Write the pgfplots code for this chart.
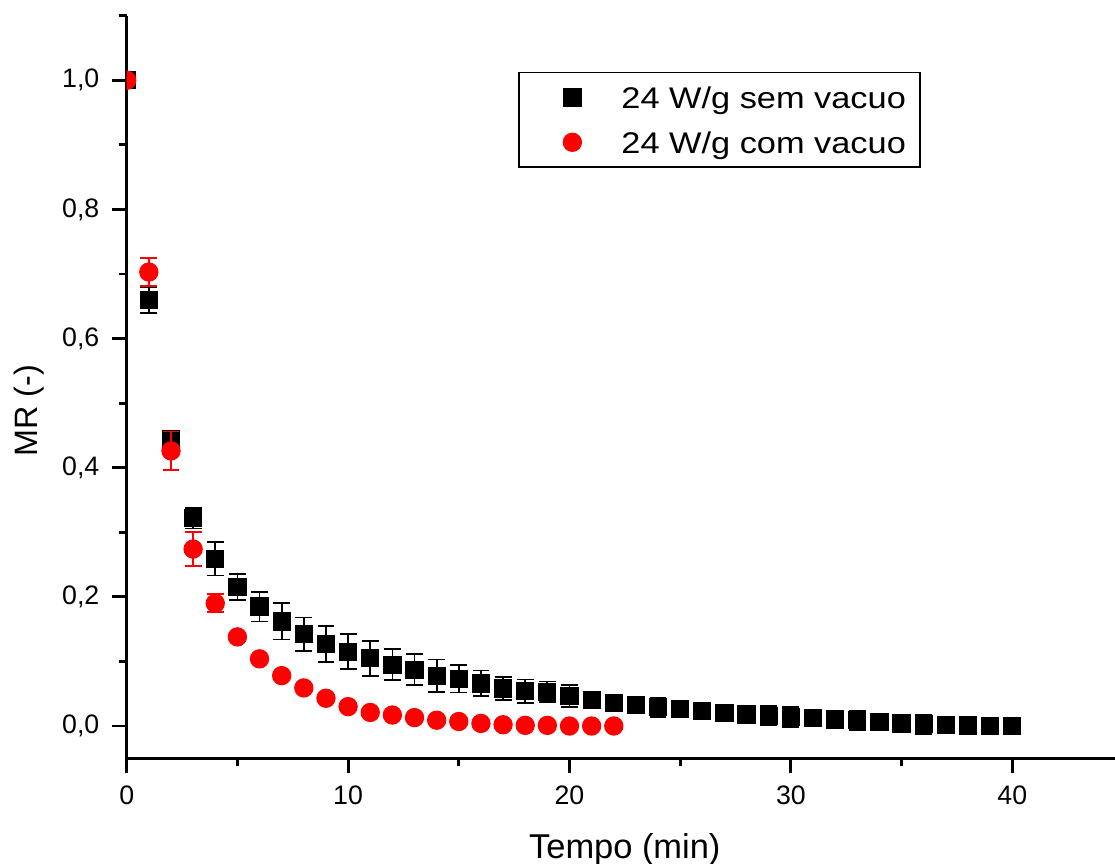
\documentclass[border=0pt]{standalone}
\usepackage{pgfplots}
\pgfplotsset{compat=1.18}
\usepackage{pgfplotstable}
\usepackage{fontspec}
\setmainfont{Liberation Sans}
\newfontfamily\legfont{Liberation Sans}[FakeStretch=1.15]

% Moisture ratio, 24 W/g without vacuum: time (min), MR, standard deviation
\pgfplotstableread{
t  mr     e
0  1.000  0.000
1  0.660  0.020
2  0.445  0.012
3  0.322  0.016
4  0.259  0.026
5  0.215  0.020
6  0.185  0.023
7  0.162  0.028
8  0.142  0.026
9  0.127  0.028
10 0.115  0.027
11 0.105  0.027
12 0.095  0.024
13 0.087  0.024
14 0.078  0.025
15 0.073  0.021
16 0.066  0.020
17 0.058  0.018
18 0.054  0.018
19 0.053  0.016
20 0.047  0.017
21 0.040  0.006
22 0.036  0.006
23 0.032  0.006
24 0.029  0.015
25 0.026  0.008
26 0.023  0.008
27 0.020  0.008
28 0.018  0.008
29 0.016  0.015
30 0.014  0.015
31 0.012  0.008
32 0.010  0.008
33 0.009  0.015
34 0.006  0.008
35 0.004  0.008
36 0.003  0.015
37 0.002  0.008
38 0.001  0.005
39 0.000  0.005
40 0.000  0.005
}\semvacuo

% Moisture ratio, 24 W/g with vacuum
\pgfplotstableread{
t  mr     e
0  1.000  0.000
1  0.703  0.022
2  0.426  0.030
3  0.274  0.026
4  0.190  0.014
5  0.138  0.004
6  0.104  0.003
7  0.078  0.003
8  0.059  0.002
9  0.043  0.002
10 0.030  0.002
11 0.021  0.002
12 0.017  0.002
13 0.013  0.002
14 0.009  0.002
15 0.007  0.002
16 0.004  0.002
17 0.002  0.001
18 0.001  0.001
19 0.001  0.001
20 0.000  0.001
21 0.000  0.001
22 0.000  0.001
}\comvacuo

\begin{document}
\begin{tikzpicture}
\begin{axis}[
  at={(0,0)}, anchor=south west,
  scale only axis, width=9.883cm, height=7.426cm,
  xmin=0, xmax=44.64, ymin=-0.05, ymax=1.1,
  axis x line*=bottom, axis y line*=left,
  axis line style={-, line width=0.8pt, black},
  xtick={0,10,20,30,40},
  minor xtick={5,15,25,35},
  ytick={0,0.2,0.4,0.6,0.8,1.0},
  minor ytick={0.1,0.3,0.5,0.7,0.9,1.1},
  tick align=outside,
  major tick length=0.15cm, minor tick length=0.08cm,
  tick style={line width=0.8pt, black},
  major tick style={line width=0.8pt, black},
  minor tick style={line width=0.8pt, black},
  tick label style={font=\fontsize{7.6}{9}\selectfont},
  /pgf/number format/assume math mode=true,
  yticklabel style={/pgf/number format/.cd, use comma, fixed, fixed zerofill, precision=1},
  xlabel={Tempo (min)},
  xlabel style={font=\fontsize{9.8}{11}\selectfont, at={(axis description cs:0.504,-0.1347)}, anchor=base},
  ylabel={MR (-)},
  ylabel style={font=\fontsize{9.2}{11}\selectfont, at={(axis description cs:-0.0989,0.468)}, anchor=center},
  clip marker paths=true,
  legend style={at={(axis description cs:0.396,0.9246)}, anchor=north west,
    draw=black, line width=0.5pt, font=\legfont\fontsize{8.5}{10}\selectfont,
    inner xsep=2pt, inner ysep=2pt, row sep=2.6pt,
    nodes={text depth=0pt}},
  legend cell align=left,
  legend image code/.code={%
    \path[draw=none, fill=none] (0cm,-0.1cm) rectangle (0.884cm,0.1cm);
    \draw[#1] plot coordinates {(0.464cm,0cm)};},
]
\addplot[only marks, mark=square*, mark size=2.45pt,
  mark options={draw=black, fill=black, line width=0.3pt},
  error bars/.cd, y dir=both, y explicit,
  error bar style={line width=0.5pt, black},
  error mark options={rotate=90, mark size=2.4pt, line width=0.5pt, black}]
  table[x=t, y=mr, y error=e] {\semvacuo};
\addlegendentry{24 W/g sem vacuo}
\addplot[only marks, mark=*, mark size=2.6pt,
  mark options={draw=red, fill=red, line width=0.3pt},
  error bars/.cd, y dir=both, y explicit,
  error bar style={line width=0.5pt, red},
  error mark options={rotate=90, mark size=2.4pt, line width=0.5pt, red}]
  table[x=t, y=mr, y error=e] {\comvacuo};
\addlegendentry{24 W/g com vacuo}
\end{axis}
\pgfresetboundingbox
\useasboundingbox (-1.267,-1.057) rectangle (9.883,7.583);
\end{tikzpicture}
\end{document}
